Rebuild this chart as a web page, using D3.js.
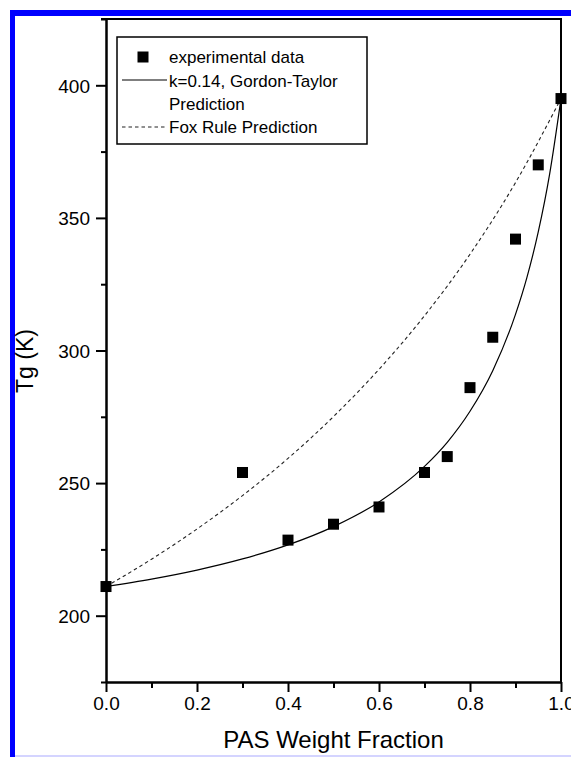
<!DOCTYPE html>
<head>
    <meta charset="UTF-8">
    <script src="https://d3js.org/d3.v7.min.js"></script>
    <style>
        body { margin: 0; background: white; }
        text { font-family: "Liberation Sans", Arial, sans-serif; fill: black; }
        .axis path, .axis line { stroke: black; stroke-width: 2px; }
        .axis text { font-size: 19px; }
    </style>
</head>
<body>
    <div id="viz"></div>
    <script>
        // experimental points
        const expFrac = [0, 0.3, 0.4, 0.5, 0.6, 0.7, 0.75, 0.8, 0.85, 0.9, 0.95, 1.0];
        const expTg = [211, 254, 228.5, 234.5, 241, 254, 260, 286, 305, 342, 370, 395];

        // Gordon-Taylor curve (k=0.14), sampled along the drawn line
        const gtFrac = [0, 0.1, 0.2, 0.3, 0.4, 0.5, 0.6, 0.7, 0.75, 0.8, 0.85, 0.9, 0.925, 0.95, 0.975, 1.0];
        const gtTg = [211, 213.8, 217.2, 221.4, 226.7, 233.6, 242.9, 256.3, 265.4, 277.1, 292.4, 313.6, 327.5, 344.7, 366.5, 395];

        // Fox rule curve, sampled along the dashed line
        const foxFrac = [0, 0.1, 0.2, 0.3, 0.4, 0.5, 0.6, 0.7, 0.8, 0.9, 1.0];
        const foxTg = [211, 221.3, 232.7, 245.3, 259.3, 275.1, 292.9, 313.1, 336.3, 363.3, 395];

        const xMajor = [0, 0.2, 0.4, 0.6, 0.8, 1.0];
        const xMinor = [0.1, 0.3, 0.5, 0.7, 0.9];
        const yMajor = [200, 250, 300, 350, 400];
        const yMinor = [175, 225, 275, 325, 375, 425];

        const legendLabels = ["experimental data", "k=0.14, Gordon-Taylor", "Prediction", "Fox Rule Prediction"];

        const width = 571, height = 757;
        const pLeft = 106, pRight = 561, pTop = 19, pBottom = 682;

        const svg = d3.select('#viz').append('svg')
            .attr('width', width)
            .attr('height', height);

        // blue frame
        svg.append('rect').attr('x', 10).attr('y', 10).attr('width', 561).attr('height', 6).attr('fill', '#0000ff');
        svg.append('rect').attr('x', 10).attr('y', 10).attr('width', 5).attr('height', 747).attr('fill', '#0000ff');
        svg.append('line').attr('x1', 15).attr('x2', 571).attr('y1', 756).attr('y2', 756)
            .attr('stroke', '#d4d4ff').attr('stroke-width', 2);

        const x = d3.scaleLinear().domain([0, 1]).range([pLeft, pRight]);
        const y = d3.scaleLinear().domain([175, 425]).range([pBottom, pTop]);

        // minor ticks first
        svg.append('g').attr('class', 'axis')
            .attr('transform', `translate(0,${pBottom})`)
            .call(d3.axisBottom(x).tickValues(xMinor).tickSize(6).tickSizeOuter(0).tickFormat(''));
        svg.append('g').attr('class', 'axis')
            .attr('transform', `translate(${pLeft},0)`)
            .call(d3.axisLeft(y).tickValues(yMinor).tickSize(5).tickSizeOuter(0).tickFormat(''));

        svg.append('g').attr('class', 'axis')
            .attr('transform', `translate(0,${pBottom})`)
            .call(d3.axisBottom(x).tickValues(xMajor).tickSize(10).tickSizeOuter(0).tickPadding(5).tickFormat(d3.format('.1f')));
        svg.append('g').attr('class', 'axis')
            .attr('transform', `translate(${pLeft},0)`)
            .call(d3.axisLeft(y).tickValues(yMajor).tickSize(10).tickSizeOuter(0).tickPadding(6))
            .selectAll('text').attr('dy', '0.36em');

        // top and right frame
        svg.append('line').attr('x1', pLeft - 5).attr('x2', pRight).attr('y1', pTop).attr('y2', pTop)
            .attr('stroke', 'black').attr('stroke-width', 2);
        svg.append('line').attr('x1', pRight).attr('x2', pRight).attr('y1', pTop - 1).attr('y2', pBottom)
            .attr('stroke', 'black').attr('stroke-width', 2);

        // curves
        const line = d3.line().curve(d3.curveMonotoneX)
            .x(d => x(d[0])).y(d => y(d[1]));

        svg.append('path')
            .datum(foxFrac.map((f, i) => [f, foxTg[i]]))
            .attr('d', line)
            .attr('fill', 'none').attr('stroke', '#222').attr('stroke-width', 1.1)
            .attr('stroke-dasharray', '3.5,3');

        svg.append('path')
            .datum(gtFrac.map((f, i) => [f, gtTg[i]]))
            .attr('d', line)
            .attr('fill', 'none').attr('stroke', 'black').attr('stroke-width', 1.2);

        // points
        const sq = 11;
        svg.selectAll('.pt')
            .data(expFrac.map((f, i) => [f, expTg[i]]))
            .enter()
            .append('rect')
            .attr('class', 'pt')
            .attr('x', d => x(d[0]) - sq / 2)
            .attr('y', d => y(d[1]) - sq / 2)
            .attr('width', sq).attr('height', sq)
            .attr('fill', 'black');

        // legend
        const lg = svg.append('g');
        lg.append('rect').attr('x', 117).attr('y', 37).attr('width', 250).attr('height', 107)
            .attr('fill', 'white').attr('stroke', 'black').attr('stroke-width', 1.5);
        lg.append('rect').attr('x', 143 - sq / 2).attr('y', 57 - sq / 2).attr('width', sq).attr('height', sq).attr('fill', 'black');
        lg.append('line').attr('x1', 122).attr('x2', 167).attr('y1', 80).attr('y2', 80)
            .attr('stroke', 'black').attr('stroke-width', 1.2);
        lg.append('line').attr('x1', 122).attr('x2', 167).attr('y1', 127).attr('y2', 127)
            .attr('stroke', '#222').attr('stroke-width', 1.1).attr('stroke-dasharray', '3.5,3');
        const baselines = [62.5, 86.5, 109.5, 133];
        lg.selectAll('.lt')
            .data(legendLabels)
            .enter()
            .append('text')
            .attr('x', 169)
            .attr('y', (d, i) => baselines[i])
            .style('font-size', '17px')
            .text(d => d);

        // axis titles
        svg.append('text')
            .attr('x', (pLeft + pRight) / 2)
            .attr('y', 748)
            .attr('text-anchor', 'middle')
            .style('font-size', '24px')
            .text('PAS Weight Fraction');

        svg.append('text')
            .attr('transform', 'translate(33,361) rotate(-90)')
            .attr('text-anchor', 'middle')
            .style('font-size', '23px')
            .text('Tg (K)');
    </script>
</body>
</html>
